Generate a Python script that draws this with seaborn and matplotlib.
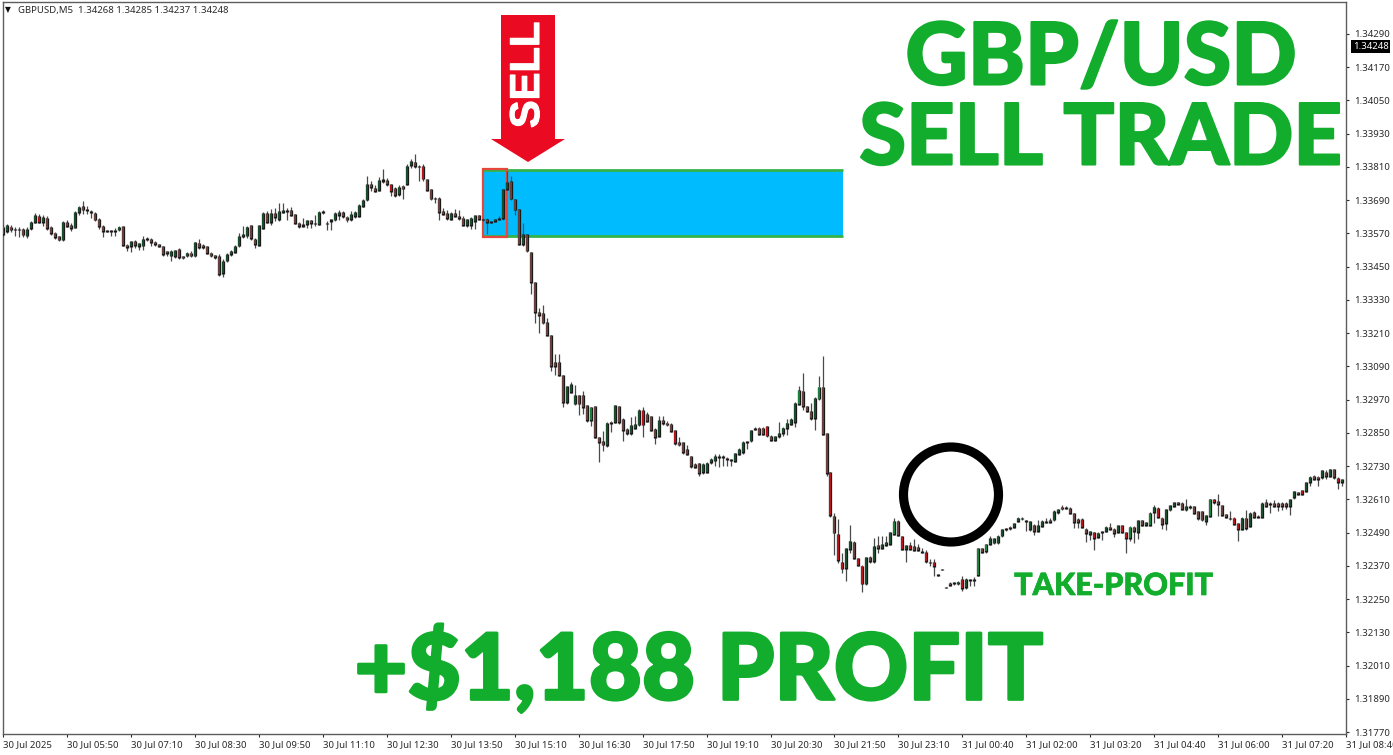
import numpy as np
import pandas as pd
import matplotlib
matplotlib.use('Agg')
import matplotlib.pyplot as plt
import matplotlib.patheffects as pe
import seaborn as sns
from matplotlib.patches import Rectangle, Polygon, Ellipse

# Prices are points above 1.30000 (M5 bars)
opens = [3566,3576,3594,3586,3586,3584,3560,3586,3610,3632,
3610,3626,3594,3572,3558,3546,3610,3600,3589,3644,
3668,3656,3650,3644,3622,3596,3580,3580,3581,3582,
3596,3529,3522,3540,3522,3524,3553,3550,3538,3530,
3522,3506,3488,3486,3512,3488,3488,3500,3488,3536,
3526,3524,3500,3490,3486,3426,3470,3494,3502,3524,
3558,3560,3598,3550,3526,3588,3642,3610,3642,3620,
3646,3650,3654,3638,3608,3596,3602,3618,3604,3602,
3644,3608,3614,3618,3634,3646,3630,3620,3630,3632,
3668,3690,3746,3734,3726,3758,3762,3746,3734,3710,
3742,3746,3814,3826,3814,3812,3764,3728,3698,3698,
3650,3644,3620,3644,3632,3626,3598,3598,3614,3634,
3622,3622,3614,3612,3620,3622,3728,3758,3694,3658,
3530,3566,3502,3394,3286,3282,3248,3202,3104,3104,
3058,2960,2996,2954,2984,2984,2948,2894,2946,2834,
2818,2804,2890,2888,2946,2900,2864,2846,2866,2878,
2930,2918,2910,2864,2836,2894,2886,2882,2858,2816,
2816,2790,2766,2736,2740,2708,2708,2742,2748,2766,
2766,2760,2754,2746,2772,2778,2820,2820,2868,2868,
2868,2874,2838,2822,2836,2848,2864,2880,2886,2952,
3002,2946,2928,2900,2972,3016,2848,2708,2550,2484,
2382,2360,2430,2456,2396,2370,2304,2400,2384,2444,
2432,2442,2448,2484,2532,2476,2428,2444,2440,2436,
2424,2418,2384,2384,2340,2358,2293,2308,2310,2304,
2322,2292,2320,2322,2334,2432,2420,2448,2452,2452,
2477,2505,2511,2507,2531,2543,2533,2501,2515,2495,
2513,2531,2535,2535,2561,2583,2583,2579,2559,2539,
2539,2503,2483,2491,2471,2495,2495,2511,2503,2489,
2515,2491,2467,2511,2489,2535,2515,2515,2561,2579,
2543,2523,2571,2585,2599,2597,2571,2585,2585,2567,
2567,2531,2549,2611,2603,2587,2555,2543,2543,2523,
2501,2543,2513,2563,2549,2543,2599,2597,2597,2597,
2597,2597,2583,2615,2635,2643,2639,2671,2695,2691,
2687,2707,2691,2719,2687,2669]

closes = [3594,3598,3582,3584,3582,3564,3584,3610,3634,3610,
3628,3586,3570,3554,3546,3612,3596,3586,3646,3666,
3654,3652,3644,3618,3596,3578,3577,3577,3578,3594,
3526,3520,3542,3526,3534,3550,3548,3536,3529,3522,
3492,3498,3506,3510,3482,3481,3500,3488,3538,3518,
3518,3498,3488,3482,3422,3470,3494,3506,3524,3558,
3566,3594,3550,3530,3598,3644,3608,3644,3626,3650,
3654,3652,3634,3606,3594,3602,3618,3604,3608,3648,
3651,3604,3620,3644,3646,3630,3618,3638,3646,3670,
3690,3746,3734,3722,3762,3764,3746,3722,3706,3738,
3730,3814,3830,3812,3810,3766,3726,3694,3696,3646,
3638,3622,3644,3630,3622,3598,3620,3626,3634,3620,
3618,3610,3608,3620,3626,3730,3754,3694,3654,3530,
3566,3506,3392,3284,3272,3246,3202,3090,3090,3058,
2960,3018,3026,2984,2954,2942,2894,2942,2834,2816,
2806,2886,2882,2948,2888,2858,2846,2876,2882,2930,
2878,2890,2858,2834,2894,2882,2878,2854,2810,2806,
2780,2772,2728,2724,2704,2736,2742,2754,2766,2760,
2760,2752,2748,2776,2790,2816,2816,2860,2862,2844,
2844,2838,2822,2836,2848,2868,2886,2898,2956,3004,
2946,2928,2900,2976,3016,2844,2704,2550,2488,2388,
2358,2432,2460,2396,2372,2304,2400,2384,2440,2432,
2448,2456,2492,2532,2478,2428,2444,2428,2424,2424,
2418,2384,2380,2368,2334,2356,2291,2300,2304,2312,
2288,2320,2315,2316,2432,2418,2448,2468,2468,2478,
2501,2499,2503,2523,2543,2539,2531,2531,2495,2515,
2531,2527,2527,2567,2573,2575,2578,2559,2525,2525,
2507,2487,2495,2467,2489,2489,2511,2501,2487,2515,
2491,2467,2511,2495,2535,2515,2527,2561,2583,2543,
2519,2573,2587,2599,2591,2573,2585,2579,2559,2539,
2535,2551,2609,2597,2591,2551,2543,2539,2519,2501,
2543,2503,2561,2543,2543,2597,2583,2591,2585,2585,
2585,2585,2611,2639,2627,2627,2671,2691,2681,2681,
2715,2693,2717,2687,2669,2683]

highs = [3602,3604,3600,3594,3592,3590,3592,3614,3644,3642,
3638,3632,3596,3574,3560,3614,3618,3608,3650,3668,
3686,3670,3654,3648,3624,3602,3582,3584,3590,3598,
3598,3531,3544,3546,3536,3560,3556,3554,3542,3532,
3524,3508,3512,3512,3516,3490,3504,3506,3540,3550,
3532,3526,3502,3492,3494,3476,3498,3510,3528,3570,
3598,3598,3600,3554,3600,3648,3652,3660,3662,3680,
3680,3662,3664,3642,3610,3626,3620,3620,3638,3650,
3654,3614,3622,3646,3654,3650,3634,3650,3652,3676,
3696,3776,3758,3746,3774,3802,3770,3750,3738,3746,
3746,3822,3838,3858,3818,3822,3766,3730,3700,3700,
3662,3654,3648,3660,3654,3634,3622,3628,3638,3636,
3624,3626,3616,3622,3634,3732,3794,3776,3696,3660,
3608,3568,3504,3396,3302,3310,3266,3204,3134,3134,
3060,3020,3032,3022,2986,3002,2950,2944,2948,2836,
2858,2888,2894,2950,2948,2902,2866,2906,2912,2938,
2942,2924,2912,2866,2912,2912,2894,2884,2860,2834,
2818,2808,2768,2742,2742,2740,2746,2758,2772,2772,
2770,2764,2756,2778,2796,2820,2822,2862,2872,2870,
2870,2876,2844,2838,2888,2872,2900,2902,2960,3020,
3066,2948,2958,2978,3054,3128,2850,2710,2562,2540,
2418,2434,2516,2458,2398,2372,2402,2404,2472,2478,
2478,2478,2494,2544,2534,2478,2446,2456,2466,2448,
2436,2428,2394,2396,2340,2358,2293,2310,2312,2316,
2332,2326,2322,2328,2434,2436,2450,2478,2470,2480,
2504,2508,2514,2526,2548,2546,2535,2533,2520,2535,
2535,2543,2543,2570,2576,2588,2587,2582,2561,2541,
2541,2505,2497,2493,2491,2497,2513,2523,2505,2517,
2519,2493,2513,2513,2537,2537,2529,2563,2591,2581,
2545,2575,2589,2601,2601,2599,2611,2590,2587,2569,
2569,2553,2611,2613,2629,2589,2557,2567,2545,2525,
2545,2573,2563,2567,2555,2599,2611,2599,2609,2599,
2599,2599,2613,2641,2637,2645,2673,2693,2699,2693,
2717,2717,2719,2721,2689,2685]

lows = [3560,3570,3576,3560,3558,3556,3554,3584,3608,3606,
3596,3584,3566,3550,3544,3544,3592,3578,3588,3636,
3642,3639,3626,3614,3586,3558,3574,3560,3560,3578,
3524,3506,3504,3518,3510,3510,3544,3526,3524,3520,
3488,3488,3472,3482,3478,3478,3484,3484,3486,3514,
3514,3496,3484,3478,3416,3414,3466,3490,3498,3522,
3554,3554,3548,3518,3524,3586,3606,3602,3614,3614,
3644,3620,3632,3604,3590,3592,3590,3590,3596,3600,
3642,3582,3582,3616,3620,3626,3612,3616,3626,3630,
3666,3688,3722,3718,3724,3752,3742,3704,3702,3706,
3694,3744,3806,3808,3758,3758,3724,3690,3680,3620,
3636,3618,3618,3628,3620,3596,3594,3586,3586,3618,
3616,3568,3606,3610,3618,3620,3726,3692,3638,3528,
3526,3504,3350,3246,3212,3244,3200,3074,3058,3056,
2942,2954,2994,2952,2914,2918,2888,2876,2832,2746,
2786,2798,2854,2886,2882,2822,2844,2844,2864,2876,
2834,2888,2856,2810,2834,2880,2876,2852,2808,2804,
2774,2770,2722,2722,2694,2700,2704,2738,2730,2728,
2732,2732,2730,2744,2770,2772,2792,2818,2860,2842,
2842,2836,2820,2820,2832,2838,2844,2878,2872,2950,
2934,2926,2898,2862,2970,2842,2696,2548,2408,2382,
2346,2316,2418,2394,2370,2274,2302,2382,2382,2418,
2430,2440,2444,2482,2476,2426,2384,2426,2422,2422,
2416,2382,2370,2332,2334,2356,2291,2298,2302,2302,
2280,2288,2298,2296,2332,2416,2418,2444,2450,2450,
2475,2497,2500,2505,2528,2537,2495,2497,2483,2493,
2511,2525,2525,2532,2559,2573,2576,2556,2507,2507,
2505,2455,2465,2429,2469,2465,2493,2499,2475,2487,
2489,2415,2459,2453,2467,2513,2513,2513,2525,2541,
2503,2501,2569,2583,2589,2571,2569,2577,2557,2537,
2533,2519,2547,2595,2549,2549,2541,2537,2517,2459,
2499,2501,2511,2541,2541,2541,2581,2561,2583,2569,
2571,2575,2555,2613,2625,2625,2637,2657,2679,2657,
2685,2685,2689,2685,2647,2657]

# bars whose fill is a clean colour in the screenshot, the rest look muddy
bright_red = [9, 97, 105, 160, 168, 191, 207, 209, 210, 214, 215, 225, 227, 231, 233,
              240, 270, 273, 280, 281, 289, 303, 308, 309, 325, 334]
bright_green = [0, 147, 199, 204, 223, 244, 246, 282, 287, 302]

y_ticks = [1.34290, 1.34170, 1.34050, 1.33930, 1.33810, 1.33690, 1.33570, 1.33450,
           1.33330, 1.33210, 1.33090, 1.32970, 1.32850, 1.32730, 1.32610, 1.32490,
           1.32370, 1.32250, 1.32130, 1.32010, 1.31890, 1.31770]
x_labels = ['30 Jul 2025', '30 Jul 05:50', '30 Jul 07:10', '30 Jul 08:30', '30 Jul 09:50',
            '30 Jul 11:10', '30 Jul 12:30', '30 Jul 13:50', '30 Jul 15:10', '30 Jul 16:30',
            '30 Jul 17:50', '30 Jul 19:10', '30 Jul 20:30', '30 Jul 21:50', '30 Jul 23:10',
            '31 Jul 00:40', '31 Jul 02:00', '31 Jul 03:20', '31 Jul 04:40', '31 Jul 06:00',
            '31 Jul 07:20', '31 Jul 08:40']
header = 'GBPUSD,M5  1.34268 1.34285 1.34237 1.34248'
last_price = 1.34248
zone_top, zone_bottom = 3799, 3561
zone_start, zone_end = 120, 210.2

W, H = 1393, 755
GREEN = '#12ad2d'
HEAD_FONT = ['Lato', 'DejaVu Sans']
SMALL_FONT = ['Noto Sans', 'DejaVu Sans']


def px(x, y):
    return x / W, 1 - y / H


def caption(x, y, txt, size, stroke):
    t = fig.text(*px(x, y), txt, color=GREEN, fontsize=size, fontweight='black', family=HEAD_FONT,
                 ha='center', va='center', zorder=8)
    t.set_path_effects([pe.withStroke(linewidth=stroke, foreground=GREEN)])


df = pd.DataFrame({'open': opens, 'high': highs, 'low': lows, 'close': closes})
df[['open', 'high', 'low', 'close']] = 1.3 + df[['open', 'high', 'low', 'close']] / 1e5
df['bar'] = np.arange(len(df))
df['top'] = df[['open', 'close']].max(axis=1) + 0.00001
df['bottom'] = df[['open', 'close']].min(axis=1) - 0.00001

df['kind'] = np.where(df['close'] >= df['open'], 'bull', 'bear')
df.loc[df['bar'].isin(bright_red), 'kind'] = 'red'
df.loc[df['bar'].isin(bright_green), 'kind'] = 'green'

wicks = df.melt(id_vars=['bar'], value_vars=['high', 'low'], value_name='price')
bodies = df.melt(id_vars=['bar', 'kind'], value_vars=['top', 'bottom'], value_name='price')

# inner fill stops a little short of the black outline
inner = df[df['top'] - df['bottom'] > 0.00009].copy()
inner['top'] -= 0.00003
inner['bottom'] += 0.00003
fills = inner.melt(id_vars=['bar', 'kind'], value_vars=['top', 'bottom'], value_name='price')

sns.set_style('white')
plt.rcParams['font.family'] = SMALL_FONT

fig = plt.figure(figsize=(W / 100, H / 100), dpi=100, facecolor='white')
ax = fig.add_axes([3 / W, 1 - 734 / H, (1346 - 3) / W, (734 - 2) / H])

# supply zone under the candles
ax.add_patch(Rectangle((zone_start, 1.3 + zone_bottom / 1e5), zone_end - zone_start,
                       (zone_top - zone_bottom) / 1e5, facecolor='#00bcff', edgecolor='none', zorder=1))
ax.hlines([1.3 + zone_top / 1e5, 1.3 + zone_bottom / 1e5], zone_start, zone_end,
          color='#35b34a', lw=2, zorder=1.5)
ax.add_patch(Rectangle((zone_start, 1.33557), 6.1, 0.00246, facecolor='none',
                       edgecolor='#e5473c', lw=1.6, zorder=2))

sns.lineplot(data=wicks, x='bar', y='price', units='bar', estimator=None, sort=False,
             color='#4a4a4a', lw=0.9, solid_capstyle='butt', zorder=3, ax=ax, legend=False)
sns.lineplot(data=bodies, x='bar', y='price', units='bar', estimator=None, sort=False,
             color='#1a1a1a', lw=2.35, solid_capstyle='butt', zorder=4, ax=ax, legend=False)
sns.lineplot(data=fills, x='bar', y='price', hue='kind', units='bar', estimator=None, sort=False,
             palette={'bull': '#1c5a33', 'bear': '#7d4c47', 'red': '#e8121c', 'green': '#18a048'},
             lw=1.1, solid_capstyle='butt', zorder=5, ax=ax, legend=False)

ax.set_xlim(-0.075, 335.675)
ax.set_ylim(1.34290 - (734 - 34) * 3.61e-5, 1.34290 + 32 * 3.61e-5)
ax.set_xlabel('')
ax.set_ylabel('')

ax.yaxis.tick_right()
ax.set_yticks(y_ticks)
ax.set_yticklabels([f'{v:.5f}' for v in y_ticks])
ax.set_xticks(np.arange(len(x_labels)) * 16)
ax.set_xticklabels(x_labels, ha='left')
ax.tick_params(axis='y', length=2.5, width=0.8, pad=3, labelsize=6.9, colors='#2a2a2a', right=True)
ax.tick_params(axis='x', length=2.5, width=0.8, pad=2, labelsize=6.9, colors='#2a2a2a', bottom=True)
for lab in ax.get_xticklabels():
    lab.set_clip_on(False)
for side in ax.spines:
    ax.spines[side].set_visible(True)
    ax.spines[side].set_color('#5d5d5d')
    ax.spines[side].set_linewidth(1.0)

# current price tag
x_tag, y_tag = px(1370.5, 46.5)
fig.text(x_tag, y_tag, f'{last_price:.5f}', color='white', fontsize=6.9, ha='center', va='center',
         bbox=dict(facecolor='black', edgecolor='none', boxstyle='square,pad=0.2'))
# chart header
fig.text(*px(5, 10), '\u25bc', fontsize=5.5, family='DejaVu Sans', va='center', color='#111111')
fig.text(*px(18, 10), header, fontsize=6.9, va='center', color='#2a2a2a')

# sell arrow
arrow_px = [(501, 15), (555, 15), (555, 139), (565, 139), (528, 162), (491, 139), (501, 139)]
ax.add_patch(Polygon([px(*p) for p in arrow_px], closed=True, transform=fig.transFigure,
                     facecolor='#ea0a22', edgecolor='none', zorder=6, clip_on=False))
sell = fig.text(*px(528, 75), 'SELL', color='white', rotation=90, ha='center', va='center',
                fontsize=30, fontweight='bold', family=['Liberation Sans', 'DejaVu Sans'], zorder=7)
sell.set_path_effects([pe.withStroke(linewidth=0.8, foreground='white')])

# take profit circle
ax.add_patch(Ellipse(px(951, 494.5), 95 / W, 95 / H, transform=fig.transFigure, facecolor='none',
                     edgecolor='black', lw=6.6, zorder=6, clip_on=False))

# big captions
caption(1101, 60, 'GBP/USD', 62, 1.5)
caption(1101, 140, 'SELL TRADE', 61, 1.5)
caption(699, 671, '+$1,188 PROFIT', 66, 2.0)
caption(1113.5, 586, 'TAKE-PROFIT', 22, 0.5)

fig.savefig('out.png', dpi=100, facecolor='white')
